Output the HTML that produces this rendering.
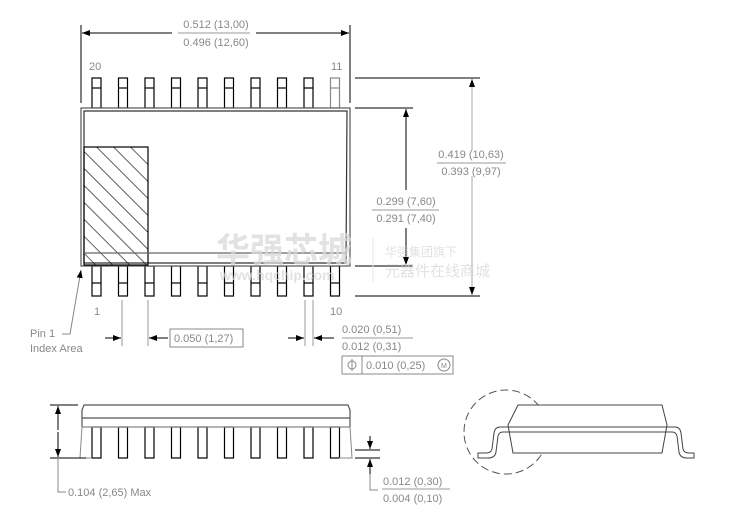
<!DOCTYPE html>
<html><head><style>body{margin:0;background:#fff}svg{display:block}</style></head><body>
<svg width="730" height="519" xmlns="http://www.w3.org/2000/svg" font-family="Liberation Sans, sans-serif">
<defs>
<marker id="a" markerWidth="8" markerHeight="6" refX="8" refY="3" orient="auto" markerUnits="userSpaceOnUse"><path d="M0,0L8,3L0,6Z" fill="#000"/></marker>
<pattern id="h" width="12" height="12" patternUnits="userSpaceOnUse" patternTransform="rotate(-45)"><line x1="0" y1="0" x2="0" y2="12" stroke="#000" stroke-width="1.2"/></pattern>
</defs>
<g stroke="#000" fill="none" stroke-width="1.2">
<!-- top pins -->
<g id="tp">
<rect x="92" y="78" width="9" height="30" fill="#fff"/><line x1="92" y1="88" x2="101" y2="88"/>
</g>
<use href="#tp" x="26.5"/><use href="#tp" x="53"/><use href="#tp" x="79.5"/><use href="#tp" x="106"/><use href="#tp" x="132.5"/><use href="#tp" x="159"/><use href="#tp" x="185.5"/><use href="#tp" x="212"/><use href="#tp" x="238.5" stroke="#888"/>
<g id="bp">
<rect x="92" y="266" width="9" height="30" fill="#fff"/><line x1="92" y1="283" x2="101" y2="283"/>
</g>
<use href="#bp" x="26.5"/><use href="#bp" x="53"/><use href="#bp" x="79.5"/><use href="#bp" x="106"/><use href="#bp" x="132.5"/><use href="#bp" x="159"/><use href="#bp" x="185.5"/><use href="#bp" x="212"/><use href="#bp" x="238.5"/>
<!-- body -->
<rect x="81" y="108" width="269" height="158" fill="#fff" stroke="#555"/>
<polygon points="84,111 347,111 346,263 84,263" stroke="#333"/>
<rect x="84" y="147" width="64" height="118" fill="url(#h)" stroke="#000"/>
<line x1="84" y1="253" x2="347" y2="253" stroke="#666"/>
<!-- top dim -->
<line x1="81" y1="25" x2="81" y2="103" stroke-width="1"/>
<line x1="350" y1="25" x2="350" y2="103" stroke-width="1"/>
<line x1="172" y1="33" x2="82" y2="33" marker-end="url(#a)" stroke-width="1"/>
<line x1="256" y1="33" x2="349" y2="33" marker-end="url(#a)" stroke-width="1"/>
<line x1="178" y1="33" x2="250" y2="33" stroke="#999" stroke-width="1"/>
<!-- right dims -->
<line x1="355" y1="78" x2="480" y2="78" stroke-width="1"/>
<line x1="355" y1="296" x2="480" y2="296" stroke-width="1"/>
<line x1="355" y1="108" x2="413" y2="108" stroke-width="1"/>
<line x1="355" y1="266" x2="413" y2="266" stroke-width="1"/>
<line x1="472" y1="150" x2="472" y2="79" marker-end="url(#a)" stroke="#aaa" stroke-width="1"/>
<line x1="472" y1="176" x2="472" y2="295" marker-end="url(#a)" stroke="#aaa" stroke-width="1"/>
<line x1="406" y1="190" x2="406" y2="109" marker-end="url(#a)" stroke-width="1"/>
<line x1="406" y1="228" x2="406" y2="265" marker-end="url(#a)" stroke-width="1"/>
<line x1="437" y1="163" x2="506" y2="163" stroke="#999" stroke-width="1"/>
<line x1="372" y1="210" x2="439" y2="210" stroke="#999" stroke-width="1"/>
<!-- bottom pitch dims -->
<g stroke="#999" stroke-width="1">
<line x1="122" y1="300" x2="122" y2="346"/><line x1="148" y1="300" x2="148" y2="346"/>
<line x1="305" y1="300" x2="305" y2="346"/><line x1="313" y1="300" x2="313" y2="346"/>
<line x1="342" y1="338" x2="413" y2="338"/>
</g>
<line x1="105" y1="338" x2="121" y2="338" marker-end="url(#a)" stroke-width="1"/>
<line x1="168" y1="338" x2="149" y2="338" marker-end="url(#a)" stroke-width="1"/>
<line x1="288" y1="338" x2="304" y2="338" marker-end="url(#a)" stroke-width="1"/>
<line x1="334" y1="338" x2="314" y2="338" marker-end="url(#a)" stroke-width="1"/>
<rect x="170" y="329" width="73" height="18" stroke="#888" stroke-width="1"/>
<rect x="342" y="356" width="111" height="18" stroke="#888" stroke-width="1"/>
<line x1="362" y1="356" x2="362" y2="374" stroke="#888" stroke-width="1"/>
<circle cx="352" cy="365" r="4" stroke="#888" stroke-width="1"/><line x1="352" y1="359" x2="352" y2="371" stroke="#888" stroke-width="1"/>
<circle cx="444" cy="365" r="6" stroke="#888" stroke-width="1"/>
<!-- pin1 leader -->
<polyline points="62,334 70,334 81,270" stroke="#888" stroke-width="1" marker-end="url(#a)"/>
<!-- side view -->
<g id="sp"><rect x="92" y="427" width="9" height="31" fill="#fff"/></g>
<use href="#sp" x="26.5"/><use href="#sp" x="53"/><use href="#sp" x="79.5"/><use href="#sp" x="106"/><use href="#sp" x="132.5"/><use href="#sp" x="159"/><use href="#sp" x="185.5"/><use href="#sp" x="212"/><use href="#sp" x="238.5"/>
<polyline points="82,427 82,410 84,405 348,405 350,410 350,427" stroke="#555"/>
<line x1="82" y1="418" x2="350" y2="418" stroke="#555"/>
<line x1="82" y1="427" x2="350" y2="427" stroke="#888"/>
<polyline points="82,427 80,458 92,458" stroke="#888" stroke-width="1"/>
<polyline points="350,427 352,458 339,458" stroke="#888" stroke-width="1"/>
<line x1="50" y1="405" x2="78" y2="405" stroke-width="1"/>
<line x1="50" y1="458" x2="86" y2="458" stroke-width="1"/>
<line x1="58" y1="430" x2="58" y2="406" marker-end="url(#a)" stroke-width="1"/>
<line x1="58" y1="432" x2="58" y2="457" marker-end="url(#a)" stroke-width="1"/>
<polyline points="58,458 58,492 66,492" stroke="#888" stroke-width="1"/>
<line x1="355" y1="450" x2="380" y2="450" stroke-width="1"/>
<line x1="355" y1="458" x2="380" y2="458" stroke-width="1"/>
<line x1="370" y1="436" x2="370" y2="449" marker-end="url(#a)" stroke-width="1"/>
<line x1="370" y1="474" x2="370" y2="459" marker-end="url(#a)" stroke-width="1"/>
<polyline points="370,474 370,490 378,490" stroke="#888" stroke-width="1"/>
<line x1="382" y1="489" x2="450" y2="489" stroke="#999" stroke-width="1"/>
<!-- detail view -->
<circle cx="506" cy="432" r="42" stroke="#555" stroke-width="1" stroke-dasharray="8,4"/>
<polygon points="518,405 662,405 667,425 662,453 513,453 508,425" fill="#fff" stroke="#444" stroke-width="1"/>
<path d="M508,427 L500,427 Q495,427 494,433 L492,449 Q491,453 486,453 L478,453 L478,458 L488,458 Q495,458 496,452 L498,436 Q499,432 503,432 L508,432" stroke="#444" stroke-width="1"/>
<path d="M667,427 L675,427 Q680,427 681,433 L683,449 Q684,453 689,453 L694,453 L694,458 L687,458 Q680,458 679,452 L677,436 Q676,432 672,432 L667,432" stroke="#444" stroke-width="1"/>
<line x1="508" y1="427" x2="667" y2="427" stroke="#444" stroke-width="1"/>
<line x1="508" y1="432" x2="667" y2="432" stroke="#444" stroke-width="1"/>
</g>
<!-- watermark -->
<g fill="#d8d8d8" fill-opacity="0.75">
<text x="216" y="262" font-size="34" font-weight="bold" font-family="Noto Sans CJK SC, WenQuanYi Zen Hei, sans-serif">华强芯城</text>
<text x="220" y="280" font-size="14" font-weight="bold">www.hqchip.com</text>
<text x="385" y="256" font-size="12" font-family="Noto Sans CJK SC, sans-serif">华强集团旗下</text>
<text x="385" y="276" font-size="15" font-family="Noto Sans CJK SC, sans-serif">元器件在线商城</text>
</g>
<line x1="373" y1="238" x2="373" y2="282" stroke="#e4e4e4"/>
<g fill="#888" font-size="11">
<text x="216" y="28" text-anchor="middle">0.512  (13,00)</text>
<text x="216" y="46" text-anchor="middle">0.496  (12,60)</text>
<text x="89" y="70">20</text><text x="331" y="70">11</text>
<text x="94" y="315">1</text><text x="330" y="315">10</text>
<text x="471" y="158" text-anchor="middle">0.419  (10,63)</text>
<text x="471" y="175" text-anchor="middle">0.393  (9,97)</text>
<text x="406" y="205" text-anchor="middle">0.299  (7,60)</text>
<text x="406" y="222" text-anchor="middle">0.291  (7,40)</text>
<text x="174" y="342">0.050  (1,27)</text>
<text x="342" y="333">0.020  (0,51)</text>
<text x="342" y="350">0.012  (0,31)</text>
<text x="366" y="369">0.010  (0,25)</text>
<text x="441" y="368" font-size="7">M</text>
<text x="30" y="337">Pin 1</text>
<text x="30" y="352">Index  Area</text>
<text x="68" y="496">0.104  (2,65)  Max</text>
<text x="383" y="485">0.012  (0,30)</text>
<text x="383" y="502">0.004  (0,10)</text>
</g>
</svg>
</body></html>
